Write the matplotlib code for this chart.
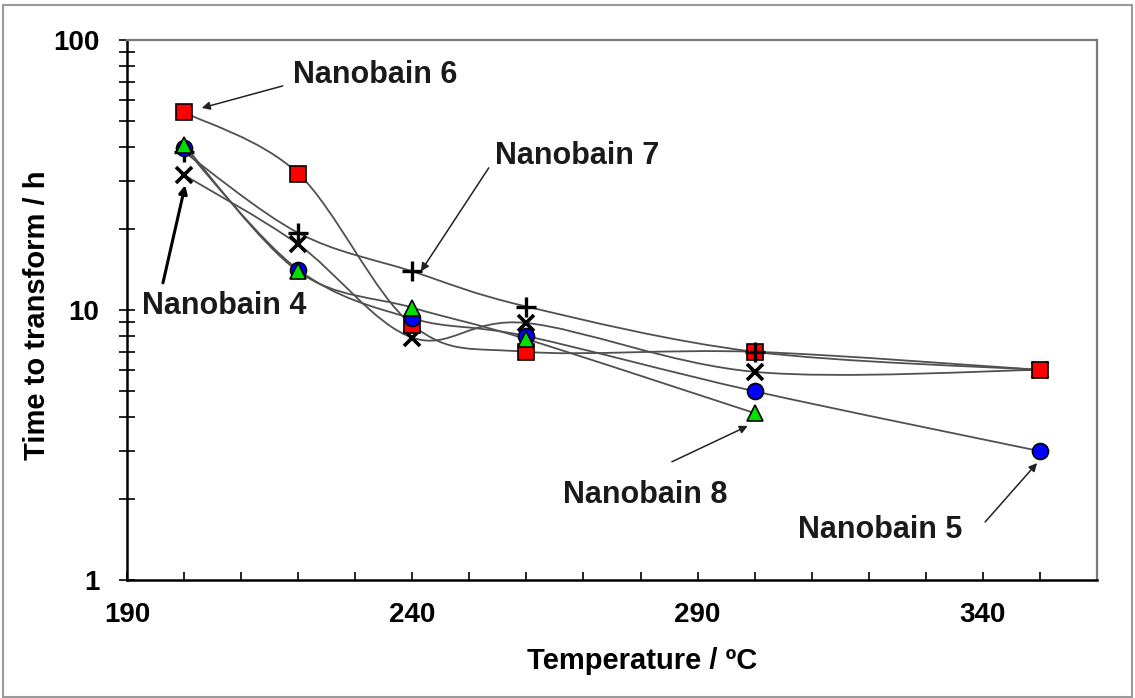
import matplotlib.pyplot as plt
import numpy as np
from matplotlib.path import Path
from matplotlib.patches import PathPatch, Rectangle
from matplotlib.ticker import FixedLocator, MultipleLocator, LogLocator, NullFormatter

plt.rcParams['font.family'] = ['Liberation Sans', 'DejaVu Sans']
plt.rcParams['font.weight'] = 'bold'

# Data (temperature in degC, time to transform in h)
temp_n4 = [200, 220, 240, 260, 300, 350]
time_n4 = [31.6, 17.5, 7.9, 8.95, 5.9, 6.0]

temp_n5 = [200, 220, 240, 260, 300, 350]
time_n5 = [39.8, 14.1, 9.3, 8.0, 5.0, 3.0]

temp_n6 = [200, 220, 240, 260, 300, 350]
time_n6 = [54.0, 32.0, 8.8, 7.0, 7.0, 6.0]

temp_n7 = [200, 220, 240, 260, 300, 350]
time_n7 = [38.5, 19.3, 13.9, 10.3, 7.0, 6.0]

temp_n8 = [200, 220, 240, 260, 300]
time_n8 = [40.8, 13.9, 10.2, 7.8, 4.15]


def smooth_path(xs, ys):
    # Excel-like smoothed line: cubic bezier through the points (in log-y space)
    p = np.column_stack([np.asarray(xs, float), np.log10(ys)])
    n = len(p)
    d = np.zeros_like(p)
    for i in range(n):
        a = p[max(i - 1, 0)]
        b = p[min(i + 1, n - 1)]
        d[i] = (b - a) / 6.0
    verts = [p[0]]
    codes = [Path.MOVETO]
    for i in range(n - 1):
        verts += [p[i] + d[i], p[i + 1] - d[i + 1], p[i + 1]]
        codes += [Path.CURVE4] * 3
    verts = np.array(verts)
    verts[:, 1] = 10 ** verts[:, 1]
    return Path(verts, codes)


fig = plt.figure(figsize=(11.35, 6.98), dpi=100)
ax = fig.add_axes([0.1119, 0.1691, 0.8546, 0.7736])

ax.set_yscale('log')
ax.set_xlim(190, 360)
ax.set_ylim(1, 100)

for xs, ys in [(temp_n4, time_n4), (temp_n5, time_n5), (temp_n6, time_n6),
               (temp_n7, time_n7), (temp_n8, time_n8)]:
    ax.add_patch(PathPatch(smooth_path(xs, ys), facecolor='none',
                           edgecolor='#505050', lw=1.3, zorder=2))

ax.plot(temp_n4, time_n4, ls='none', marker='x', ms=12, mew=2.6, color='black', zorder=3)
ax.plot(temp_n6, time_n6, ls='none', marker='s', ms=11.5, mfc='#ff0000', mec='black', mew=1.2, zorder=4)
# the last + sits hidden behind the red square at 350
ax.plot(temp_n7, time_n7, ls='none', marker='+', ms=15, mew=2.4, color='black', zorder=5,
        markevery=list(range(len(temp_n7) - 1)))
ax.plot(temp_n5, time_n5, ls='none', marker='o', ms=11.5, mfc='#0000ff', mec='black', mew=1.2, zorder=6)
ax.plot(temp_n8, time_n8, ls='none', marker='^', ms=11.5, mfc='#00e000', mec='black', mew=1.2, zorder=7)

# spines
for s in ['left', 'bottom']:
    ax.spines[s].set_linewidth(1.8)
    ax.spines[s].set_color('black')
for s in ['top', 'right']:
    ax.spines[s].set_linewidth(1.6)
    ax.spines[s].set_color('#7a7a7a')

# ticks
ax.xaxis.set_major_locator(FixedLocator([190, 240, 290, 340]))
ax.xaxis.set_minor_locator(MultipleLocator(10))
ax.tick_params(axis='x', which='both', direction='in', length=6, width=1.2,
               top=False, pad=16, labelsize=20)
ax.yaxis.set_minor_locator(LogLocator(base=10, subs=np.arange(2, 10), numticks=10))
ax.yaxis.set_minor_formatter(NullFormatter())
ax.set_yticks([1, 10, 100])
ax.set_yticklabels(['1', '10', '100'])
ax.tick_params(axis='y', which='both', direction='inout', length=12, width=1.2,
               right=False, pad=14, labelsize=20)

ax.set_xlabel('Temperature / ºC', fontsize=21, fontweight='bold')
ax.xaxis.set_label_coords(0.531, -0.125)
ax.set_ylabel('Time to transform / h', fontsize=21, fontweight='bold')
ax.yaxis.set_label_coords(-0.078, 0.49)

# annotations
txt = dict(fontsize=22, fontweight='bold', va='baseline', ha='left', color='#1a1a1a')
ax.text(219.1, 69.3, 'Nanobain 6', **txt)
ax.text(254.5, 34.7, 'Nanobain 7', **txt)
ax.text(192.6, 9.67, 'Nanobain 4', **txt)
ax.text(266.4, 1.93, 'Nanobain 8', **txt)
ax.text(307.6, 1.43, 'Nanobain 5', **txt)

arr = dict(arrowstyle='-|>', color='#222222', lw=1.1, mutation_scale=12,
           shrinkA=0, shrinkB=0)
ax.annotate('', xy=(203.1, 56.0), xytext=(217.3, 67.6), arrowprops=arr)
ax.annotate('', xy=(241.5, 13.9), xytext=(253.4, 33.6), arrowprops=arr)
ax.annotate('', xy=(200.2, 29.0), xytext=(196.3, 12.6),
            arrowprops=dict(arr, lw=2.2, color='black'))
ax.annotate('', xy=(298.8, 3.72), xytext=(285.5, 2.74), arrowprops=arr)
ax.annotate('', xy=(349.5, 2.71), xytext=(340.4, 1.64), arrowprops=arr)

# outer frame of the picture
fig.patches.append(Rectangle((0.003, 0.002), 0.994, 0.991, transform=fig.transFigure,
                             fill=False, edgecolor='#9a9a9a', lw=1.5))

fig.savefig('out.png', dpi=100)
